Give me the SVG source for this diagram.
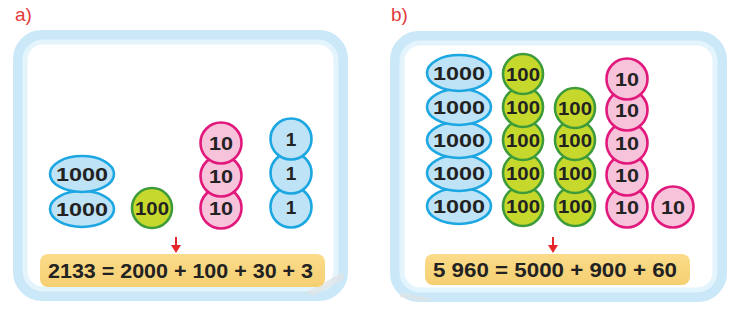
<svg xmlns="http://www.w3.org/2000/svg" width="735" height="310" viewBox="0 0 735 310">
<defs>
<linearGradient id="barg" x1="0" y1="0" x2="0" y2="1">
<stop offset="0" stop-color="#fbdc8a"/>
<stop offset="1" stop-color="#f5cf72"/>
</linearGradient>
</defs>
<style>
.lbl{font-family:"Liberation Sans",Arial,sans-serif;font-size:19px;fill:#e23a3a}
.frame{fill:#fff;stroke:#cbe8f8;stroke-width:14}
.frame2{fill:none;stroke:#e4f4fc;stroke-width:5}
.th{fill:#bfe3f6;stroke:#1ca7e2;stroke-width:2.6}
.hu{fill:#c6d82c;stroke:#3d9b3a;stroke-width:2.6}
.te{fill:#f7c3da;stroke:#e2197c;stroke-width:2.6}
.on{fill:#bfe3f6;stroke:#1ca7e2;stroke-width:2.6}
.n{font-family:"Liberation Sans",Arial,sans-serif;font-weight:bold;font-size:19px;fill:#222;text-anchor:middle}
.bar{fill:url(#barg)}
.eq{font-family:"Liberation Sans",Arial,sans-serif;font-weight:bold;font-size:20px;fill:#222}
.arr{stroke:#e5262a;stroke-width:2;fill:none}
.ah{fill:#e5262a}
.sw{fill:#dfe3e6;opacity:0.7}
</style>
<rect width="735" height="310" fill="#fff"/>

<text class="lbl" x="15" y="21">a)</text>
<text class="lbl" x="391" y="21">b)</text>

<g id="frame-a">
<rect class="frame" x="20" y="37" width="321" height="257" rx="22"/>
<rect class="frame2" x="25" y="42" width="311" height="247" rx="18"/>
<path class="sw" d="M305,293 L343,272 L344,279 L314,296 Z"/>
</g>
<g id="frame-b">
<rect class="frame" x="397" y="38" width="323" height="257" rx="22"/>
<rect class="frame2" x="402" y="43" width="313" height="247" rx="18"/>
<path class="sw" d="M400,292 L436,300 L420,301 L400,297 Z"/>
</g>

<!-- panel a -->
<g id="a-1000-2"><ellipse class="th" cx="82" cy="209" rx="32" ry="18"/><text class="n" x="82" y="216" textLength="52" lengthAdjust="spacingAndGlyphs">1000</text></g>
<g id="a-1000-1"><ellipse class="th" cx="82" cy="174" rx="32" ry="18"/><text class="n" x="82" y="181" textLength="52" lengthAdjust="spacingAndGlyphs">1000</text></g>
<g id="a-100"><circle class="hu" cx="152" cy="208" r="20"/><text class="n" x="152" y="215" textLength="34" lengthAdjust="spacingAndGlyphs">100</text></g>
<g id="a-10-3"><circle class="te" cx="221" cy="208" r="20.5"/><text class="n" x="221" y="215" textLength="24" lengthAdjust="spacingAndGlyphs">10</text></g>
<g id="a-10-2"><circle class="te" cx="221" cy="176" r="20.5"/><text class="n" x="221" y="183" textLength="24" lengthAdjust="spacingAndGlyphs">10</text></g>
<g id="a-10-1"><circle class="te" cx="221" cy="143" r="20.5"/><text class="n" x="221" y="150" textLength="24" lengthAdjust="spacingAndGlyphs">10</text></g>
<g id="a-1-3"><circle class="on" cx="291" cy="207" r="20.5"/><text class="n" x="291" y="214">1</text></g>
<g id="a-1-2"><circle class="on" cx="291" cy="173" r="20.5"/><text class="n" x="291" y="180">1</text></g>
<g id="a-1-1"><circle class="on" cx="291" cy="139" r="20.5"/><text class="n" x="291" y="146">1</text></g>
<g id="a-eq"><rect class="bar" x="40" y="254" width="285" height="33" rx="8"/><text class="eq" x="48" y="278" textLength="265" lengthAdjust="spacingAndGlyphs">2133 = 2000 + 100 + 30 + 3</text></g>

<!-- panel b -->
<g id="b-1000-5"><ellipse class="th" cx="459" cy="206" rx="32" ry="18"/><text class="n" x="459" y="213" textLength="52" lengthAdjust="spacingAndGlyphs">1000</text></g>
<g id="b-1000-4"><ellipse class="th" cx="459" cy="173" rx="32" ry="18"/><text class="n" x="459" y="180" textLength="52" lengthAdjust="spacingAndGlyphs">1000</text></g>
<g id="b-1000-3"><ellipse class="th" cx="459" cy="140" rx="32" ry="18"/><text class="n" x="459" y="147" textLength="52" lengthAdjust="spacingAndGlyphs">1000</text></g>
<g id="b-1000-2"><ellipse class="th" cx="459" cy="107" rx="32" ry="18"/><text class="n" x="459" y="114" textLength="52" lengthAdjust="spacingAndGlyphs">1000</text></g>
<g id="b-1000-1"><ellipse class="th" cx="459" cy="73" rx="32" ry="18"/><text class="n" x="459" y="80" textLength="52" lengthAdjust="spacingAndGlyphs">1000</text></g>

<g id="b-100a-5"><circle class="hu" cx="523" cy="206" r="20"/><text class="n" x="523" y="213" textLength="34" lengthAdjust="spacingAndGlyphs">100</text></g>
<g id="b-100a-4"><circle class="hu" cx="523" cy="173" r="20"/><text class="n" x="523" y="180" textLength="34" lengthAdjust="spacingAndGlyphs">100</text></g>
<g id="b-100a-3"><circle class="hu" cx="523" cy="140" r="20"/><text class="n" x="523" y="147" textLength="34" lengthAdjust="spacingAndGlyphs">100</text></g>
<g id="b-100a-2"><circle class="hu" cx="523" cy="107" r="20"/><text class="n" x="523" y="114" textLength="34" lengthAdjust="spacingAndGlyphs">100</text></g>
<g id="b-100a-1"><circle class="hu" cx="523" cy="74" r="20"/><text class="n" x="523" y="81" textLength="34" lengthAdjust="spacingAndGlyphs">100</text></g>

<g id="b-100b-4"><circle class="hu" cx="575" cy="206" r="20"/><text class="n" x="575" y="213" textLength="34" lengthAdjust="spacingAndGlyphs">100</text></g>
<g id="b-100b-3"><circle class="hu" cx="575" cy="173" r="20"/><text class="n" x="575" y="180" textLength="34" lengthAdjust="spacingAndGlyphs">100</text></g>
<g id="b-100b-2"><circle class="hu" cx="575" cy="140" r="20"/><text class="n" x="575" y="147" textLength="34" lengthAdjust="spacingAndGlyphs">100</text></g>
<g id="b-100b-1"><circle class="hu" cx="575" cy="108" r="20"/><text class="n" x="575" y="115" textLength="34" lengthAdjust="spacingAndGlyphs">100</text></g>

<g id="b-10-5"><circle class="te" cx="627" cy="207" r="20.5"/><text class="n" x="627" y="214" textLength="24" lengthAdjust="spacingAndGlyphs">10</text></g>
<g id="b-10-4"><circle class="te" cx="627" cy="175" r="20.5"/><text class="n" x="627" y="182" textLength="24" lengthAdjust="spacingAndGlyphs">10</text></g>
<g id="b-10-3"><circle class="te" cx="627" cy="143" r="20.5"/><text class="n" x="627" y="150" textLength="24" lengthAdjust="spacingAndGlyphs">10</text></g>
<g id="b-10-2"><circle class="te" cx="627" cy="110" r="20.5"/><text class="n" x="627" y="117" textLength="24" lengthAdjust="spacingAndGlyphs">10</text></g>
<g id="b-10-1"><circle class="te" cx="627" cy="79" r="20.5"/><text class="n" x="627" y="86" textLength="24" lengthAdjust="spacingAndGlyphs">10</text></g>
<g id="b-10-extra"><circle class="te" cx="673" cy="207" r="20.5"/><text class="n" x="673" y="214" textLength="24" lengthAdjust="spacingAndGlyphs">10</text></g>

<g id="b-eq"><rect class="bar" x="425" y="254" width="265" height="31" rx="8"/><text class="eq" x="433" y="277" textLength="244" lengthAdjust="spacingAndGlyphs">5 960 = 5000 + 900 + 60</text></g>

<g id="connectors">
<line class="arr" x1="176" y1="237" x2="176" y2="247"/>
<polygon class="ah" points="171,245 181,245 176,253"/>
<line class="arr" x1="553" y1="237" x2="553" y2="247"/>
<polygon class="ah" points="548,245 558,245 553,253"/>
</g>
</svg>
